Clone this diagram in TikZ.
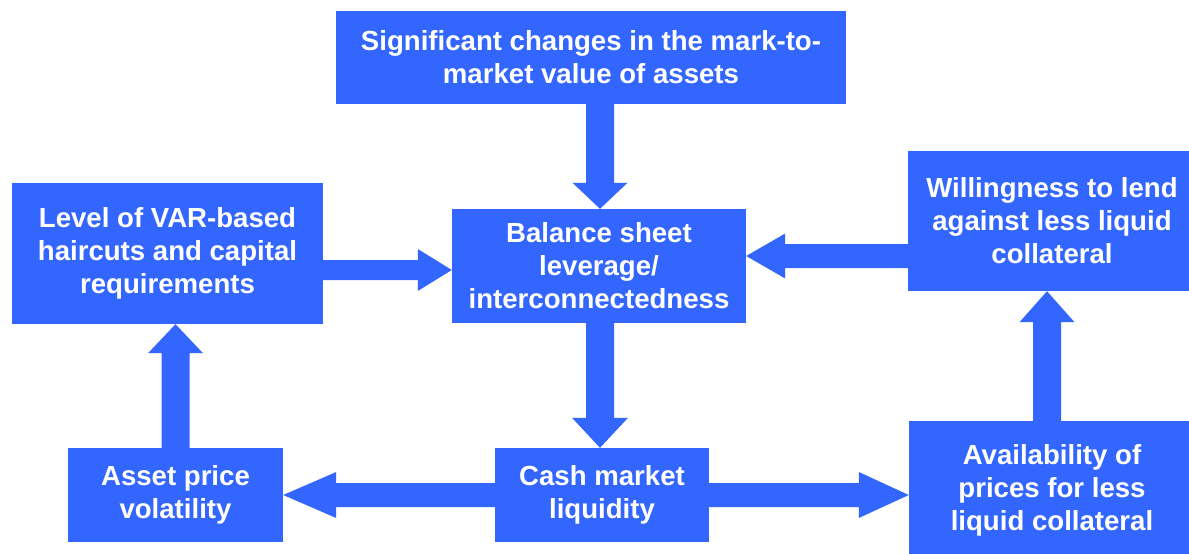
\documentclass[tikz,border=0pt]{standalone}
\usepackage{fontspec}
\setmainfont{Liberation Sans}
\usetikzlibrary{calc}
\definecolor{boxblue}{RGB}{51,102,255}
% block arrow: #1 start, #2 end, #3 half shaft, #4 half head, #5 head length, (#6,#7) unit direction
\newcommand\barrow[7]{%
\fill[arr] ($(#1)+({-(#7)*(#3)},{(#6)*(#3)})$)
 -- ($(#2)+({-(#5)*(#6)-(#7)*(#3)},{-(#5)*(#7)+(#6)*(#3)})$)
 -- ($(#2)+({-(#5)*(#6)-(#7)*(#4)},{-(#5)*(#7)+(#6)*(#4)})$)
 -- (#2)
 -- ($(#2)+({-(#5)*(#6)+(#7)*(#4)},{-(#5)*(#7)-(#6)*(#4)})$)
 -- ($(#2)+({-(#5)*(#6)+(#7)*(#3)},{-(#5)*(#7)-(#6)*(#3)})$)
 -- ($(#1)+({(#7)*(#3)},{-(#6)*(#3)})$) -- cycle;}
\begin{document}
\begin{tikzpicture}[x=1pt,y=-1pt,
  box/.style={fill=boxblue, draw=none, inner sep=0pt, text=white, align=center,
    font=\bfseries\fontsize{27.6}{33}\selectfont},
  arr/.style={fill=boxblue, draw=none}]
\useasboundingbox (0,0) rectangle (1189,554);
\fill[white] (0,0) rectangle (1189,554);
\begin{scope}
\clip (0,0) rectangle (1189,554);
\node[box, minimum width=510pt, minimum height=93pt] (top) at (591,57.5)
  {Significant changes in the mark-to-\\market value of assets};
\node[box, minimum width=294pt, minimum height=114pt] (center) at (599,266)
  {Balance sheet\\leverage/\\interconnectedness};
\node[box, minimum width=311pt, minimum height=141pt] (level) at (167.5,253.5)
  {Level of VAR-based\\haircuts and capital\\requirements};
\node[box, minimum width=288pt, minimum height=140pt] (will) at (1052,221)
  {Willingness to lend\\against less liquid\\collateral};
\node[box, minimum width=215pt, minimum height=94pt] (asset) at (175.5,495)
  {Asset price\\volatility};
\node[box, minimum width=214pt, minimum height=94pt] (cash) at (602,495)
  {Cash market\\liquidity};
\node[box, minimum width=286pt, minimum height=138pt] (avail) at (1052,490)
  {Availability of\\prices for less\\liquid collateral};
\end{scope}
% arrow end points
\coordinate (a1s) at ($(top.south -| center.north)+(1,0)$);
\coordinate (a1e) at ($(center.north)+(1,0)$);
\coordinate (a2s) at ($(level.east |- center.west)+(0,4)$);
\coordinate (a2e) at ($(center.west)+(0,4)$);
\coordinate (a3s) at ($(will.west |- center.east)+(0,-10)$);
\coordinate (a3e) at ($(center.east)+(0,-10)$);
\coordinate (a4s) at ($(center.south)+(1,0)$);
\coordinate (a4e) at ($(cash.north -| center.south)+(1,0)$);
\coordinate (a5s) at (cash.west);
\coordinate (a5e) at (asset.east);
\coordinate (a6s) at (cash.east);
\coordinate (a6e) at (avail.west |- cash.east);
\coordinate (a7s) at (asset.north);
\coordinate (a7e) at (level.south -| asset.north);
\coordinate (a8s) at ($(avail.north)+(-5,0)$);
\coordinate (a8e) at ($(will.south)+(-5,0)$);
\barrow{a1s}{a1e}{14}{27.5}{26}{0}{1}
\barrow{a2s}{a2e}{10}{21}{34}{1}{0}
\barrow{a3s}{a3e}{12}{22.5}{39}{-1}{0}
\barrow{a4s}{a4e}{14}{28}{30}{0}{1}
\barrow{a5s}{a5e}{12}{23}{53}{-1}{0}
\barrow{a6s}{a6e}{12}{23}{50}{1}{0}
\barrow{a7s}{a7e}{14}{27.5}{29}{0}{-1}
\barrow{a8s}{a8e}{14}{27.5}{31}{0}{-1}
\end{tikzpicture}
\end{document}
